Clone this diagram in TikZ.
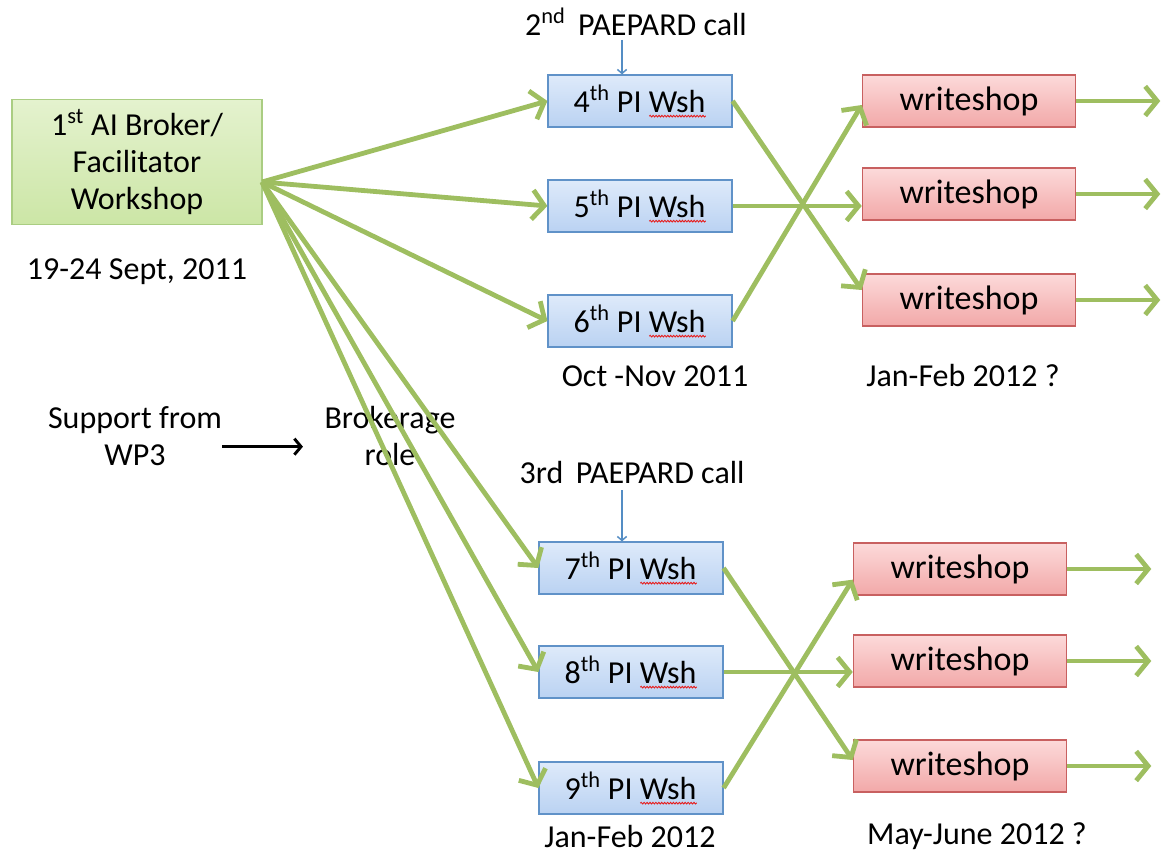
\documentclass[tikz,border=0pt]{standalone}
\usepackage{fontspec}
\setmainfont{Carlito}
\usetikzlibrary{arrows.meta,decorations.pathmorphing}

\definecolor{flowgreen}{RGB}{158,190,96}
\definecolor{callblue}{RGB}{84,141,196}
\definecolor{spellred}{RGB}{230,30,30}
\definecolor{aitop}{RGB}{228,242,206}
\definecolor{aibot}{RGB}{204,230,166}
\definecolor{aiedge}{RGB}{170,205,130}
\definecolor{wshtop}{RGB}{222,234,250}
\definecolor{wshbot}{RGB}{186,210,242}
\definecolor{wshedge}{RGB}{96,146,200}
\definecolor{wrtop}{RGB}{252,218,218}
\definecolor{wrbot}{RGB}{242,168,168}
\definecolor{wredge}{RGB}{200,96,96}

\newlength\swlen
\newcommand\spellwave[1]{\settowidth\swlen{#1}\rlap{#1}\tikz[baseline=0pt, x=1pt, y=1pt]{%
  \draw [spellred, line width=0.7pt, decorate, decoration={snake, amplitude=0.6pt, segment length=2.2pt}]
    (0,-3) -- (\swlen,-3);}}

\tikzset{
  every node/.style={font=\fontsize{24}{28}\selectfont, inner sep=0pt},
  wshbox/.style={draw=wshedge, line width=0.9pt, top color=wshtop, bottom color=wshbot,
    minimum width=138pt, minimum height=39pt},
  writebox/.style={draw=wredge, line width=0.9pt, top color=wrtop, bottom color=wrbot,
    minimum width=160pt, minimum height=39pt, font=\fontsize{25.5}{28}\selectfont},
  flow/.style={line width=3.6pt, draw=flowgreen, -{Straight Barb[length=9pt,width=22pt]}},
  callarrow/.style={line width=1.1pt, draw=callblue, -{Straight Barb[length=3pt,width=7pt]}}
}

\begin{document}
\begin{tikzpicture}[x=0.75pt, y=-0.75pt]
  \useasboundingbox (0,0) rectangle (1166,856);

  % left side
  \node [draw=aiedge, line width=0.9pt, top color=aitop, bottom color=aibot,
    minimum width=187.5pt, minimum height=93.75pt, align=center] (ai) at (137,162)
    {1\textsuperscript{st} AI Broker/\\Facilitator\\Workshop};
  \node (aidate) at (137,272) {19-24 Sept, 2011};
  \coordinate (fan) at (262,182);
  \node [align=center] (sup) at (135,436) {Support from\\WP3};
  \node [align=center] (bro) at (390,436) {Brokerage\\role};
  \draw [line width=2.2pt, -{Straight Barb[length=5pt,width=12pt]}] ([yshift=-8pt]sup.east) -- ([xshift=-16pt,yshift=-8pt]bro.west);

  % PI writeshops
  \foreach \n/\x/\y in {4/640/101,5/640/206,6/640/321,7/631/568,8/631/672,9/631/788} {
    \node [wshbox] (w\n) at (\x,\y) {\n\textsuperscript{th} PI \spellwave{Wsh}};
  }
  \node (call2) at (636,22) {2\textsuperscript{nd}\, PAEPARD call};
  \node (call3) at (632,473) {3rd\, PAEPARD call};
  \coordinate (c2) at (622,40);
  \coordinate (c3) at (622,490);
  \draw [callarrow] (c2) -- (c2 |- w4.north);
  \draw [callarrow] (c3) -- (c3 |- w7.north);
  \node (date1) at (655,376) {Oct -Nov 2011};
  \node (date2) at (630,836) {Jan-Feb 2012};

  % writeshops
  \foreach \n/\x/\y in {1/969/101,2/969/194,3/969/300,4/960/569,5/960/661,6/960/766} {
    \node [writebox] (p\n) at (\x,\y) {writeshop};
    \draw [flow] (p\n.east) -- ++(84,0);
  }
  \node (date3) at (963,376) {Jan-Feb 2012 ?};
  \node (date4) at (977,836) {May-June 2012 ?};

  % arrows
  \foreach \n in {4,5,6,7,8,9} {
    \draw [flow] (fan) -- (w\n.west);
  }
  \draw [flow] (w4.east) -- ([yshift=7.5pt]p3.west);
  \draw [flow] (w5.east) -- (w5.east -| p2.west);
  \draw [flow] (w6.east) -- ([yshift=-3pt]p1.west);
  \draw [flow] (w7.east) -- ([yshift=4.5pt]p6.west);
  \draw [flow] (w8.east) -- (w8.east -| p5.west);
  \draw [flow] (w9.east) -- ([yshift=-8pt]p4.west);
\end{tikzpicture}
\end{document}
